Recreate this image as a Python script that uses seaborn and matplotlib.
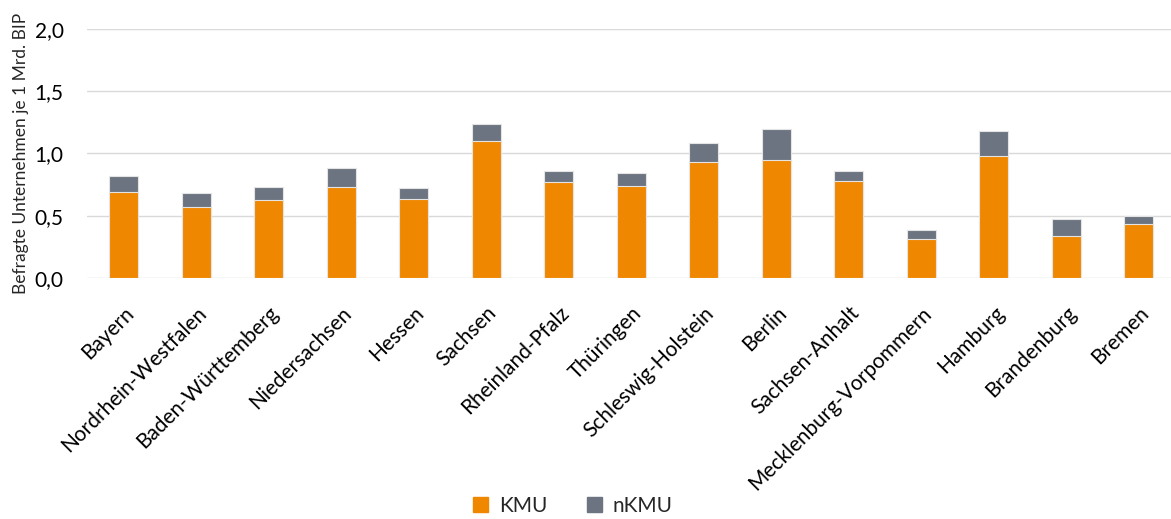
import matplotlib
matplotlib.use("Agg")
import matplotlib.pyplot as plt
import seaborn as sns
import pandas as pd
from matplotlib.patches import Patch
from matplotlib.ticker import FuncFormatter

laender = ["Bayern", "Nordrhein-Westfalen", "Baden-Württemberg", "Niedersachsen",
           "Hessen", "Sachsen", "Rheinland-Pfalz", "Thüringen", "Schleswig-Holstein",
           "Berlin", "Sachsen-Anhalt", "Mecklenburg-Vorpommern", "Hamburg",
           "Brandenburg", "Bremen"]
kmu = [0.69, 0.57, 0.63, 0.73, 0.635, 1.10, 0.77, 0.735, 0.93, 0.945, 0.78,
       0.313, 0.983, 0.335, 0.434]
nkmu = [0.13, 0.115, 0.10, 0.155, 0.09, 0.135, 0.09, 0.105, 0.15, 0.255, 0.075,
        0.07, 0.195, 0.135, 0.067]

ORANGE = "#F08700"
GRAY = "#6B7480"

df = pd.DataFrame({"land": laender, "KMU": kmu, "nKMU": nkmu})
df["gesamt"] = df["KMU"] + df["nKMU"]

sns.set_theme(style="white")
plt.rcParams["font.family"] = ["Lato", "DejaVu Sans"]

fig = plt.figure(figsize=(11.71, 5.19), dpi=100)
ax = fig.add_axes([0.0745, 0.4644, 0.929, 0.48])

# total height in grey, KMU share in orange drawn over it -> stacked look
sns.barplot(data=df, x="land", y="gesamt", color=GRAY, width=0.4,
            edgecolor="#e4e4e4", linewidth=0.8, saturation=1, ax=ax, zorder=3)
sns.barplot(data=df, x="land", y="KMU", color=ORANGE, width=0.4,
            edgecolor="#e4e4e4", linewidth=0.8, saturation=1, ax=ax, zorder=4)

ax.set_ylim(0, 2.0)
ax.set_yticks([0, 0.5, 1.0, 1.5, 2.0])
ax.yaxis.set_major_formatter(FuncFormatter(lambda v, p: f"{v:.1f}".replace(".", ",")))
ax.grid(axis="y", color="#d9d9d9", linewidth=1, zorder=0)
ax.set_axisbelow(True)
for s in ax.spines.values():
    s.set_visible(False)
ax.tick_params(axis="both", length=0, labelsize=15, colors="#000000")
ax.tick_params(axis="x", pad=18)
ax.tick_params(axis="y", pad=17)
ax.set_xlabel("")
ax.set_ylabel("Befragte Unternehmen je 1 Mrd. BIP", fontsize=12.5, labelpad=4)
ax.set_xlim(-0.5, len(laender) - 0.5)
plt.setp(ax.get_xticklabels(), rotation=45, ha="right", rotation_mode="anchor")

handles = [Patch(color=ORANGE, label="KMU"), Patch(color=GRAY, label="nKMU")]
fig.legend(handles=handles, loc="center", bbox_to_anchor=(0.489, 0.025), ncol=2,
           frameon=False, fontsize=15, handlelength=0.75, handleheight=0.75,
           columnspacing=1.9, handletextpad=0.5)

fig.savefig("out.png", dpi=100)
